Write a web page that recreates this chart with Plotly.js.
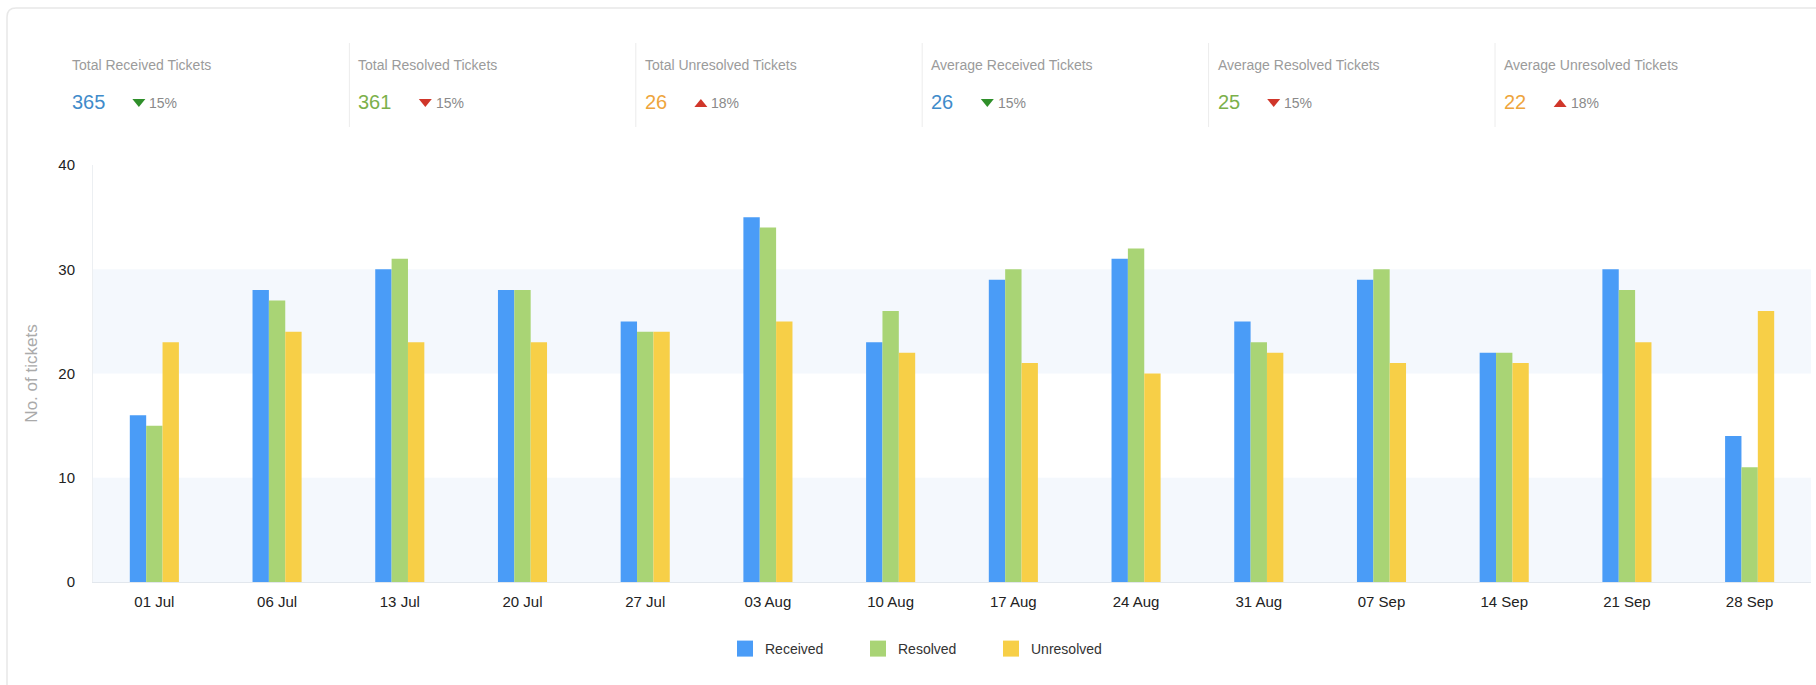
<!DOCTYPE html>
<html>
<head>
<meta charset="utf-8">
<script src="https://cdn.plot.ly/plotly-3.0.1.min.js"></script>
<style>
  html, body { margin: 0; padding: 0; background: #ffffff; }
  #chart { width: 1816px; height: 685px; }
</style>
</head>
<body>
<div id="chart"></div>
<script>
// ---------- data ----------
const categories = ['01 Jul','06 Jul','13 Jul','20 Jul','27 Jul','03 Aug','10 Aug','17 Aug','24 Aug','31 Aug','07 Sep','14 Sep','21 Sep','28 Sep'];
const received   = [16, 28, 30, 28, 25, 35, 23, 29, 31, 25, 29, 22, 30, 14];
const resolved   = [15, 27, 31, 28, 24, 34, 26, 30, 32, 23, 30, 22, 28, 11];
const unresolved = [23, 24, 23, 23, 24, 25, 22, 21, 20, 22, 21, 21, 23, 26];
const seriesNames = ['Received', 'Resolved', 'Unresolved'];
const yTickVals = [0, 10, 20, 30, 40];
const bandRanges = [[0, 10], [20, 30]];

const kpiLabels = ['Total Received Tickets', 'Total Resolved Tickets', 'Total Unresolved Tickets',
                   'Average Received Tickets', 'Average Resolved Tickets', 'Average Unresolved Tickets'];
const kpiValues = ['365', '361', '26', '26', '25', '22'];
const kpiChanges = ['15%', '15%', '18%', '15%', '15%', '18%'];
const kpiDirections = ['down', 'down', 'up', 'down', 'down', 'up'];

// ---------- styles ----------
const seriesColors = ['#4a9cf7', '#a9d475', '#f7cf47'];
const kpiValueColors = ['#3f8bca', '#7bb04a', '#eea53c', '#3f8bca', '#7bb04a', '#eea53c'];
const arrowColors = ['#2f8f2a', '#d0362a', '#d0362a', '#2f8f2a', '#d0362a', '#d0362a'];
const FONT = '"Liberation Sans", Arial, sans-serif';

// ---------- geometry (pixels of the 1816x685 page) ----------
const W = 1816, H = 685;
const M = { l: 93, r: 5, t: 165, b: 103 };
const plotW = W - M.l - M.r, plotH = H - M.t - M.b;
const X = px => (px - M.l) / plotW;          // page px -> paper x
const Y = py => (H - M.b - py) / plotH;      // page px -> paper y

const traces = [received, resolved, unresolved].map((vals, i) => ({
  type: 'bar',
  name: seriesNames[i],
  x: categories,
  y: vals,
  marker: { color: seriesColors[i] },
  showlegend: false,
  legendgroup: seriesNames[i],
  hoverinfo: 'x+y+name'
}));
// legend proxies (bigger square swatches)
seriesNames.forEach((n, i) => traces.push({
  type: 'scatter', mode: 'markers', name: n, legendgroup: n,
  x: [null], y: [null],
  marker: { color: seriesColors[i], symbol: 'square', size: 16 },
  showlegend: true, hoverinfo: 'skip'
}));

const shapes = [];
bandRanges.forEach(r => shapes.push({
  type: 'rect', xref: 'paper', yref: 'y', x0: 0, x1: 1, y0: r[0], y1: r[1],
  fillcolor: '#f4f8fd', line: { width: 0 }, layer: 'below'
}));
// card border with rounded corner
shapes.push({
  type: 'path', xref: 'paper', yref: 'paper',
  path: `M ${X(7)},${Y(720)} L ${X(7)},${Y(17)} Q ${X(7)},${Y(8)} ${X(16)},${Y(8)} L ${X(1840)},${Y(8)}`,
  line: { color: '#e8e8e8', width: 1.5 }
});

const annotations = [];
const kpiX = kpiLabels.map((_, i) => 71 + i * 286.4);
kpiLabels.forEach((lab, i) => {
  const x0 = kpiX[i];
  if (i > 0) {
    shapes.push({ type: 'line', xref: 'paper', yref: 'paper',
      x0: X(x0 - 8), x1: X(x0 - 8), y0: Y(43), y1: Y(127),
      line: { color: '#ececec', width: 1 } });
  }
  annotations.push({ xref: 'paper', yref: 'paper', x: X(x0 - 1), y: Y(65), xanchor: 'left', yanchor: 'middle',
    text: lab, showarrow: false, font: { family: FONT, size: 14, color: '#9b9b9b' } });
  annotations.push({ xref: 'paper', yref: 'paper', x: X(x0 - 1), y: Y(101.5), xanchor: 'left', yanchor: 'middle',
    text: kpiValues[i], showarrow: false, font: { family: FONT, size: 20, color: kpiValueColors[i] } });
  const ax = x0 + kpiValues[i].length * 10.8 + 29;
  const p = kpiDirections[i] === 'down'
    ? `M ${X(ax)},${Y(99)} L ${X(ax + 13)},${Y(99)} L ${X(ax + 6.5)},${Y(107)} Z`
    : `M ${X(ax)},${Y(107)} L ${X(ax + 13)},${Y(107)} L ${X(ax + 6.5)},${Y(99)} Z`;
  shapes.push({ type: 'path', xref: 'paper', yref: 'paper', path: p,
    fillcolor: arrowColors[i], line: { width: 0 } });
  annotations.push({ xref: 'paper', yref: 'paper', x: X(ax + 15), y: Y(102.5), xanchor: 'left', yanchor: 'middle',
    text: kpiChanges[i], showarrow: false, font: { family: FONT, size: 14, color: '#8a8a8a' } });
});

const layout = {
  width: W, height: H,
  margin: M,
  paper_bgcolor: '#ffffff', plot_bgcolor: '#ffffff',
  barmode: 'group', bargap: 0.6, bargroupgap: 0,
  font: { family: FONT, size: 15, color: '#333333' },
  xaxis: {
    type: 'category', categoryorder: 'array', categoryarray: categories,
    showgrid: false, zeroline: false, showline: true, linecolor: '#e2e7ed', linewidth: 1,
    ticks: '', tickfont: { family: FONT, size: 15, color: '#222222' },
    ticklabelstandoff: 6, fixedrange: true
  },
  yaxis: {
    range: [0, 40], tickvals: yTickVals, showgrid: false, zeroline: false,
    showline: true, linecolor: '#eceff2', linewidth: 1,
    ticks: '', tickfont: { family: FONT, size: 15, color: '#222222' },
    ticklabelstandoff: 14,
    title: { text: 'No. of tickets', standoff: 16, font: { family: FONT, size: 17, color: '#aaaaaa' } },
    fixedrange: true
  },
  legend: {
    orientation: 'h', x: X(725), xanchor: 'left', y: Y(649), yanchor: 'middle',
    entrywidth: 88, entrywidthmode: 'pixels',
    font: { family: FONT, size: 14, color: '#333333' },
    bgcolor: 'rgba(0,0,0,0)'
  },
  shapes: shapes,
  annotations: annotations,
  showlegend: true
};

Plotly.newPlot('chart', traces, layout, { displayModeBar: false, staticPlot: true });
</script>
</body>
</html>
